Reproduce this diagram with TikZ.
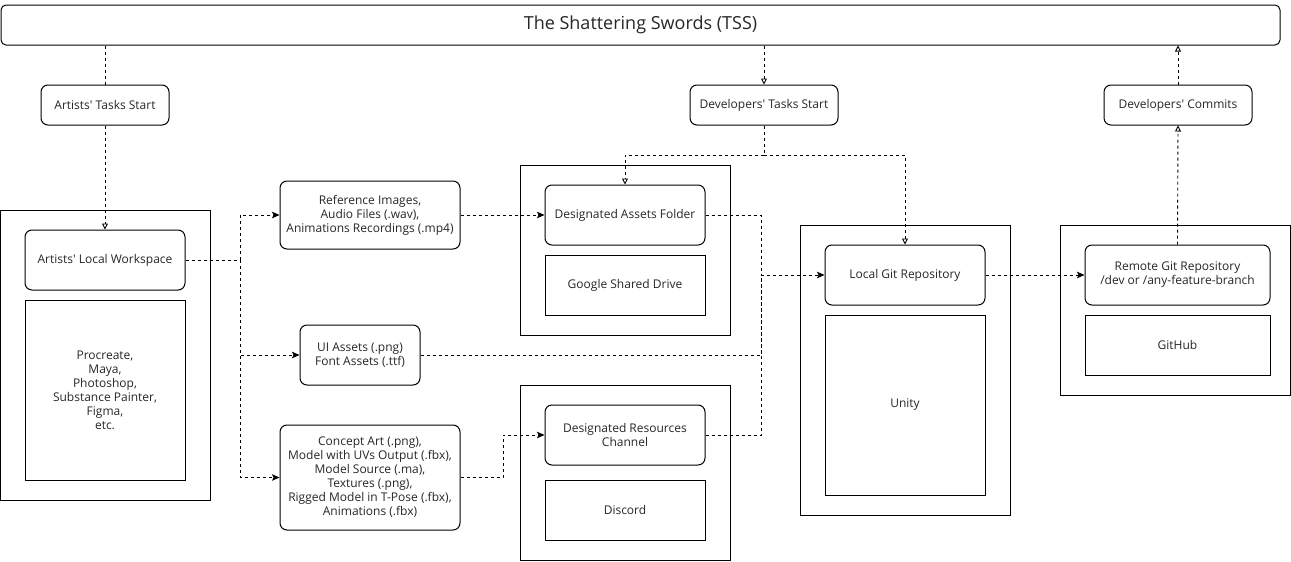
\documentclass[tikz,border=0pt]{standalone}
\usepackage{fontspec}
\setmainfont{Open Sans}
\usetikzlibrary{arrows.meta,calc}
\definecolor{txt}{HTML}{262626}
\newcommand{\ap}{\textquotesingle}
\tikzset{
  base/.style={draw=black, line width=1pt, inner sep=1pt, align=center, text=txt, font=\fontsize{12}{14}\selectfont},
  rbox/.style={base, rounded corners=7pt},
  sbox/.style={base},
  obox/.style={draw=black, line width=1pt},
  dline/.style={draw=black, line width=0.9pt, dash pattern=on 3pt off 3pt},
  oarr/.style={-{Triangle[open, length=6pt, width=6pt, line width=0.9pt]}},
  farr/.style={-{Stealth[length=7.5pt, width=6.5pt, inset=1.5pt]}},
}
\begin{document}
\begin{tikzpicture}[x=1pt,y=-1pt]
\useasboundingbox (0,0) rectangle (1291,562);
% outer containers
\draw[obox] (0.5,210) rectangle (210,500);
\draw[obox] (520,165) rectangle (730,335);
\draw[obox] (520,385) rectangle (730,560);
\draw[obox] (800,225) rectangle (1010,515);
\draw[obox] (1060,225) rectangle (1290,395);
% title
\node[rbox, rounded corners=5pt, minimum width=1279pt, minimum height=40pt, font=\fontsize{18}{22}\selectfont] (title) at (640.5,25) {The Shattering Swords (TSS)};
% top boxes
\node[rbox, minimum width=128pt, minimum height=40pt] (ats) at (105,105) {Artists\ap{} Tasks Start};
\node[rbox, minimum width=148pt, minimum height=40pt] (dts) at (764,105) {Developers\ap{} Tasks Start};
\node[rbox, minimum width=148pt, minimum height=40pt] (dc) at (1178,105) {Developers\ap{} Commits};
% artists
\node[rbox, minimum width=160pt, minimum height=60pt] (alw) at (105,260) {Artists\ap{} Local Workspace};
\node[sbox, minimum width=160pt, minimum height=180pt] (tools) at (105,390) {Procreate,\\Maya,\\Photoshop,\\Substance Painter,\\Figma,\\etc.};
% assets
\node[rbox, minimum width=180pt, minimum height=68pt] (ref) at (370,215) {Reference Images,\\Audio Files (.wav),\\Animations Recordings (.mp4)};
\node[rbox, minimum width=120pt, minimum height=60pt] (ui) at (360,355) {UI Assets (.png)\\Font Assets (.ttf)};
\node[rbox, minimum width=180pt, minimum height=105pt] (concept) at (370,477.5) {Concept Art (.png),\\Model with UVs Output (.fbx),\\Model Source (.ma),\\Textures (.png),\\Rigged Model in T-Pose (.fbx),\\Animations (.fbx)};
% middle
\node[rbox, minimum width=160pt, minimum height=60pt] (daf) at (625,215) {Designated Assets Folder};
\node[sbox, minimum width=160pt, minimum height=60pt] (gsd) at (625,285) {Google Shared Drive};
\node[rbox, minimum width=160pt, minimum height=60pt] (drc) at (625,435) {Designated Resources\\Channel};
\node[sbox, minimum width=160pt, minimum height=60pt] (discord) at (625,510) {Discord};
% right
\node[rbox, minimum width=160pt, minimum height=60pt] (lgr) at (905,275) {Local Git Repository};
\node[sbox, minimum width=160pt, minimum height=180pt] (unity) at (905,405) {Unity};
\node[rbox, minimum width=185pt, minimum height=60pt] (rgr) at (1177.5,275) {Remote Git Repository\\/dev or /any-feature-branch};
\node[sbox, minimum width=185pt, minimum height=60pt] (github) at (1177.5,345) {GitHub};
% junctions
\coordinate (ja) at (240,260);
\coordinate (jd) at (764,155);
\coordinate (jv) at (761,275);
\coordinate (jc) at (503,435);
% connectors
\draw[dline] (title.south -| ats) -- (ats.north);
\draw[dline,oarr] (ats.south) -- (alw.north);
\draw[dline] (alw.east) -- (ja);
\draw[dline,farr] (ja) |- (ref.west);
\draw[dline,farr] (ja) |- (ui.west);
\draw[dline,farr] (ja) |- (concept.west);
\draw[dline,farr] (ref.east) -- (daf.west);
\draw[dline,farr] (concept.east) -| (jc) -- (drc.west);
\draw[dline,oarr] (title.south -| dts) -- (dts.north);
\draw[dline] (dts.south) -- (jd);
\draw[dline,oarr] (jd) -| (daf.north);
\draw[dline,oarr] (jd) -| (lgr.north);
\draw[dline] (daf.east) -| (jv);
\draw[dline] (drc.east) -| (jv);
\draw[dline] (ui.east) -| (jv);
\draw[dline,farr] (jv) -- (lgr.west);
\draw[dline,farr] (lgr.east) -- (rgr.west);
\draw[dline,oarr] (rgr.north) -- (dc.south);
\draw[dline,oarr] (dc.north) -- (dc.north |- title.south);
\end{tikzpicture}
\end{document}
